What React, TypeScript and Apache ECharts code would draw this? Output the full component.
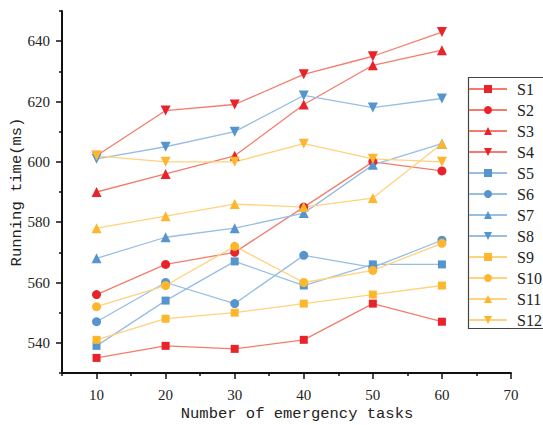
import React, { useEffect, useRef } from "react";
import * as echarts from "echarts";

const tasks = [10, 20, 30, 40, 50, 60];
const seriesNames = ["S1", "S2", "S3", "S4", "S5", "S6", "S7", "S8", "S9", "S10", "S11", "S12"];
const s1 = [535, 539, 538, 541, 553, 547];
const s2 = [556, 566, 570, 585, 600, 597];
const s3 = [590, 596, 602, 619, 632, 637];
const s4 = [602, 617, 619, 629, 635, 643];
const s5 = [539, 554, 567, 559, 566, 566];
const s6 = [547, 560, 553, 569, 565, 574];
const s7 = [568, 575, 578, 583, 599, 606];
const s8 = [601, 605, 610, 622, 618, 621];
const s9 = [541, 548, 550, 553, 556, 559];
const s10 = [552, 559, 572, 560, 564, 573];
const s11 = [578, 582, 586, 585, 588, 606];
const s12 = [602, 600, 600, 606, 601, 600];
const allValues = [s1, s2, s3, s4, s5, s6, s7, s8, s9, s10, s11, s12];

const xTickValues = [10, 20, 30, 40, 50, 60, 70];
const xMinorTickValues = [5, 15, 25, 35, 45, 55, 65];
const yTickValues = [540, 560, 580, 600, 620, 640];
const yMinorTickValues = [530, 550, 570, 590, 610, 630, 650];

const markerColors = ["#E8232B", "#5694CD", "#FDB72E"];
const lineColors = ["#F47C6C", "#97BEE3", "#FFD27E"];
const shapes = ["rect", "circle", "triangle", "triangle"];
const shapeSizes = [8, 9, 10, 10];
const shapeRotate = [0, 0, 0, 180];

const serifFont = "'Liberation Serif', 'DejaVu Serif', serif";
const monoFont = "'Liberation Mono', 'Courier New', monospace";

export default function App() {
  const ref = useRef<HTMLDivElement>(null);
  useEffect(() => {
    if (!ref.current) return;
    const chart = echarts.init(ref.current, undefined, { renderer: "svg" });
    const series = seriesNames.map((name, i) => {
      const group = Math.floor(i / 4);
      const k = i % 4;
      return {
        name,
        type: "line",
        xAxisIndex: 0,
        yAxisIndex: 0,
        data: tasks.map((t, j) => [t, allValues[i][j]]),
        symbol: shapes[k],
        symbolSize: shapeSizes[k],
        symbolRotate: shapeRotate[k],
        lineStyle: { color: lineColors[group], width: 1.3 },
        itemStyle: { color: markerColors[group] },
        emphasis: { disabled: true },
      };
    });
    const axisText = { fontFamily: serifFont, fontSize: 15, color: "#222" };
    chart.setOption({
      animation: false,
      grid: { left: 62, right: 32, top: 11, bottom: 52, containLabel: false, outerBoundsMode: "none" },
      xAxis: [
        {
          type: "value",
          min: 5,
          max: 70,
          name: "Number of emergency tasks",
          nameLocation: "middle",
          nameGap: 33,
          nameMoveOverlap: false,
          nameTextStyle: { fontFamily: monoFont, fontSize: 15.5, color: "#222", padding: [0, 0, 0, 21] },
          axisLine: { show: true, onZero: false, lineStyle: { color: "#111", width: 2 } },
          axisTick: { show: true, inside: false, length: 6, customValues: xTickValues, lineStyle: { color: "#111", width: 1.5 } },
          axisLabel: { show: true, margin: 14, customValues: xTickValues, ...axisText },
          splitLine: { show: false },
        },
        {
          type: "value",
          min: 5,
          max: 70,
          position: "bottom",
          axisLine: { show: false, onZero: false },
          axisTick: { show: true, inside: false, length: 3, customValues: xMinorTickValues, lineStyle: { color: "#111", width: 1.5 } },
          axisLabel: { show: false },
          splitLine: { show: false },
        },
      ],
      yAxis: [
        {
          type: "value",
          min: 530,
          max: 650,
          name: "Running time(ms)",
          nameLocation: "middle",
          nameGap: 37,
          nameMoveOverlap: false,
          nameTextStyle: { fontFamily: monoFont, fontSize: 15.5, color: "#222" },
          axisLine: { show: true, onZero: false, lineStyle: { color: "#111", width: 2 } },
          axisTick: { show: true, inside: false, length: 6, customValues: yTickValues, lineStyle: { color: "#111", width: 1.5 } },
          axisLabel: { show: true, margin: 12, customValues: yTickValues, ...axisText },
          splitLine: { show: false },
        },
        {
          type: "value",
          min: 530,
          max: 650,
          position: "left",
          axisLine: { show: false, onZero: false },
          axisTick: { show: true, inside: false, length: 3, customValues: yMinorTickValues, lineStyle: { color: "#111", width: 1.5 } },
          axisLabel: { show: false },
          splitLine: { show: false },
        },
      ],
      legend: {
        orient: "vertical",
        left: 466,
        top: 75,
        padding: [6, 3, 5, 2],
        itemWidth: 38,
        itemHeight: 10,
        itemGap: 5,
        borderWidth: 0,
        textStyle: { fontFamily: serifFont, fontSize: 16, color: "#222", padding: [0, 0, 0, 5] },
        data: seriesNames,
      },
      graphic: [
        {
          type: "rect",
          left: 466,
          top: 75,
          shape: { x: 0, y: 0, width: 120, height: 251 },
          style: { fill: "none", stroke: "#444", lineWidth: 1.2 },
          silent: true,
        },
      ],
      series,
    });
    return () => chart.dispose();
  }, []);
  return <div ref={ref} style={{ position: "fixed", left: 0, top: 0, width: 543, height: 425, background: "#fff" }} />;
}
